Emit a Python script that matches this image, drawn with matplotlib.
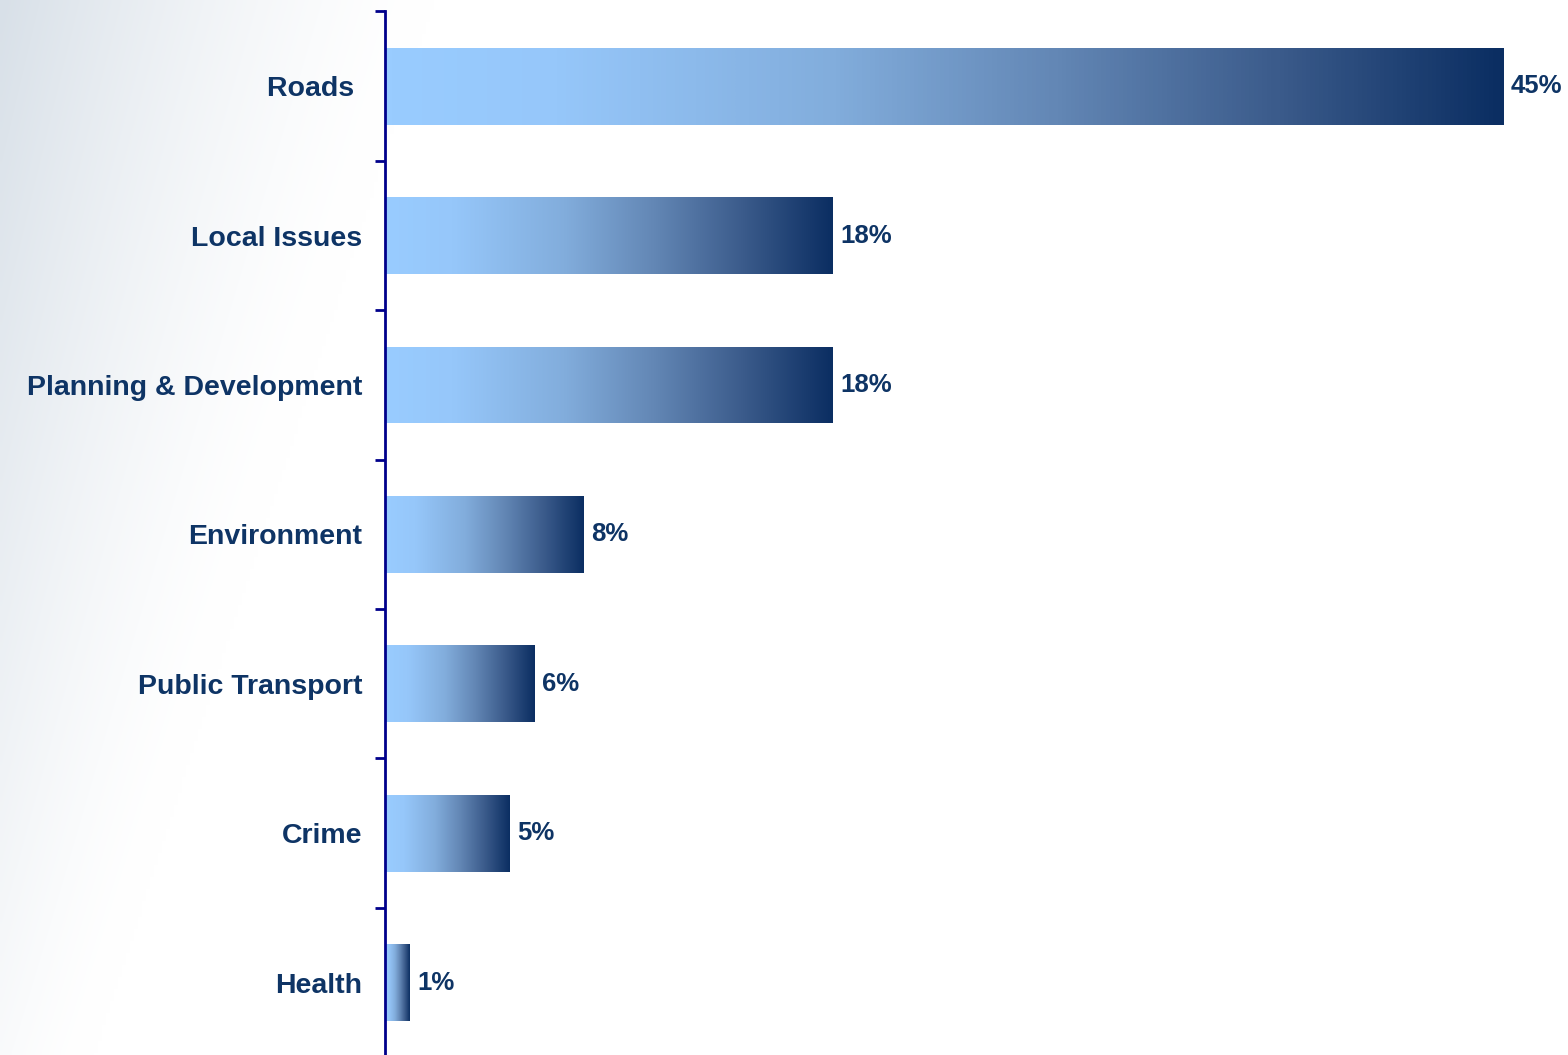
import numpy as np
import matplotlib
matplotlib.use("Agg")
import matplotlib.pyplot as plt
from matplotlib.colors import LinearSegmentedColormap, to_rgb

# Survey results: share of responses per topic (%)
categories = ["Roads ", "Local Issues", "Planning & Development", "Environment",
              "Public Transport", "Crime", "Health"]
values = [45, 18, 18, 8, 6, 5, 1]
value_labels = ["45%", "18%", "18%", "8%", "6%", "5%", "1%"]

W, H = 1568, 1055
DPI = 100
TEXT_COLOR = "#0E3465"
AXIS_COLOR = "#00008B"

plt.rcParams["font.family"] = ["Liberation Sans", "DejaVu Sans"]

fig = plt.figure(figsize=(W / DPI, H / DPI), dpi=DPI)
fig.patch.set_facecolor("white")

# Soft grey-blue wash along the left edge of the page
bg_ax = fig.add_axes([0, 0, 1, 1], zorder=0)
bg_ax.set_axis_off()
px, py = np.meshgrid(np.arange(0, W, 4), np.arange(0, H, 4))
yn = py / H
reach = 430 - 340 * yn
t = np.clip(1 - px / reach, 0, 1) ** 1.5 * (1 - 0.85 * yn)
base = np.array(to_rgb("#D8E0E8"))
bg = (1 - t)[..., None] * np.ones(3) + t[..., None] * base
bg_ax.imshow(bg, extent=[0, 1, 0, 1], aspect="auto", origin="upper",
             interpolation="bilinear")
bg_ax.set_xlim(0, 1)
bg_ax.set_ylim(0, 1)

# Main axes: axis line at x=385px, category slots of ~149px
n = len(categories)
slot = 149.4
top_px = 11.5
left = 385 / W
height = n * slot / H
bottom = 1 - top_px / H - height
ax = fig.add_axes([left, bottom, 1 - left, height], zorder=1)
ax.patch.set_alpha(0)

y = np.arange(n)
xmax = (W - 385) / 24.85

bars = ax.barh(y, values, height=0.515, color="none", edgecolor="none")

grad_cmap = LinearSegmentedColormap.from_list(
    "bar_grad",
    [(0.0, "#99CCFF"), (0.15, "#96C7FA"), (0.4, "#82ADDC"),
     (0.6, "#6387B5"), (0.8, "#3B5B8B"), (1.0, "#0B2E62")])
gradient = np.linspace(0, 1, 256)[None, :]
for bar in bars:
    x0, y0 = bar.get_x(), bar.get_y()
    w, h = bar.get_width(), bar.get_height()
    im = ax.imshow(gradient, cmap=grad_cmap, aspect="auto",
                   extent=[x0, x0 + w, y0 + h, y0], zorder=2, interpolation="bicubic")
    im.set_clip_path(bar)

ax.set_xlim(0, xmax)
ax.set_ylim(n - 0.5, -0.5)

for yi, v, lab in zip(y, values, value_labels):
    ax.annotate(lab, xy=(v, yi), xytext=(5.5, 0), textcoords="offset points",
                ha="left", va="center", fontsize=18.5, fontweight="bold",
                color=TEXT_COLOR, annotation_clip=False)

ax.set_yticks(y)
ax.set_yticklabels(categories, fontsize=20.5, fontweight="bold", color=TEXT_COLOR)
ax.tick_params(axis="y", which="major", length=0, pad=16.5)
ax.set_yticks(np.arange(-0.5, n, 1), minor=True)
ax.tick_params(axis="y", which="minor", length=7, width=2, color=AXIS_COLOR, direction="out")
ax.set_xticks([])

for side in ["top", "right", "bottom"]:
    ax.spines[side].set_visible(False)
ax.spines["left"].set_color(AXIS_COLOR)
ax.spines["left"].set_linewidth(2)
ax.spines["left"].set_zorder(3)

fig.savefig("out.png", dpi=DPI, facecolor="white")
